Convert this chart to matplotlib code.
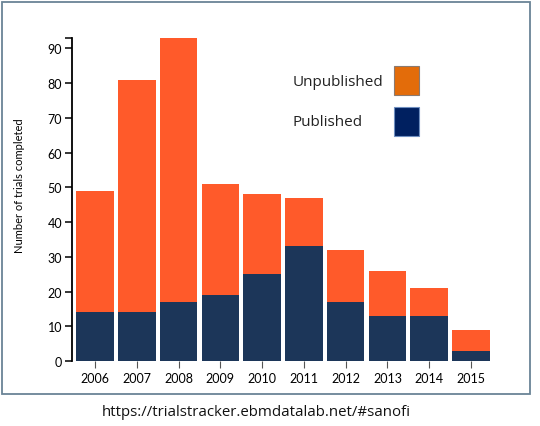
import matplotlib
matplotlib.use("Agg")
import matplotlib.pyplot as plt
from matplotlib.patches import Rectangle
import numpy as np

years = ["2006", "2007", "2008", "2009", "2010", "2011", "2012", "2013", "2014", "2015"]
published = [14, 14, 17, 19, 25, 33, 17, 13, 13, 3]
total = [49, 81, 93, 51, 48, 47, 32, 26, 21, 9]
unpublished = [t - p for t, p in zip(total, published)]
yticks = [0, 10, 20, 30, 40, 50, 60, 70, 80, 90]

W, H = 540, 427
fig = plt.figure(figsize=(W / 100, H / 100), dpi=100)
fig.patch.set_facecolor("white")

ax = fig.add_axes([72 / W, 1 - 362 / H, (494 - 72) / W, (362 - 39) / H])
x = np.arange(len(years))
navy = "#1c3659"
orange = "#ff5a2a"
ax.bar(x, published, width=0.9, color=navy)
ax.bar(x, unpublished, bottom=published, width=0.9, color=orange)

ax.set_xlim(-0.55, len(years) - 0.45)
ax.set_ylim(0, max(total))
ax.set_yticks(yticks)
ax.set_yticks([max(total)], minor=True)
ax.set_xticks(x)
ax.set_xticklabels(years)

font = "Lato"
for s in ["top", "right", "bottom"]:
    ax.spines[s].set_visible(False)
ax.spines["left"].set_linewidth(1.3)
ax.spines["left"].set_color("black")
ax.tick_params(axis="y", which="both", length=5, width=1.1, color="black",
               labelsize=9, pad=2)
ax.tick_params(axis="y", which="minor", labelleft=False)
ax.tick_params(axis="x", length=5, width=0.8, color="#555555", labelsize=9, pad=3)
for lab in ax.get_xticklabels() + ax.get_yticklabels():
    lab.set_fontfamily(font)

fig.text(20 / W, 1 - 186 / H, "Number of trials completed", rotation=90,
         ha="center", va="center", fontsize=8, family=font)

# legend
fig.text(293 / W, 1 - 83 / H, "Unpublished", ha="left", va="center",
         fontsize=11, family="Open Sans", color="#222222")
fig.text(293 / W, 1 - 122 / H, "Published", ha="left", va="center",
         fontsize=11, family="Open Sans", color="#222222")
fig.patches.append(Rectangle((394 / W, 1 - 96 / H), 25 / W, 29 / H,
                             transform=fig.transFigure, facecolor="#e36c0a",
                             edgecolor="#8a7a70", lw=0.8))
fig.patches.append(Rectangle((394 / W, 1 - 137 / H), 25 / W, 29 / H,
                             transform=fig.transFigure, facecolor="#002060",
                             edgecolor="#6f8fc0", lw=0.8))

# frame
fig.patches.append(Rectangle((2 / W, 1 - 395 / H), 528 / W, 392 / H,
                             transform=fig.transFigure, facecolor="none",
                             edgecolor="#6a8496", lw=1.3))

fig.text(256 / W, 1 - 413 / H, "https://trialstracker.ebmdatalab.net/#sanofi",
         ha="center", va="center", fontsize=10.8, family="Open Sans", color="#111111")

fig.savefig("out.png", dpi=100)
